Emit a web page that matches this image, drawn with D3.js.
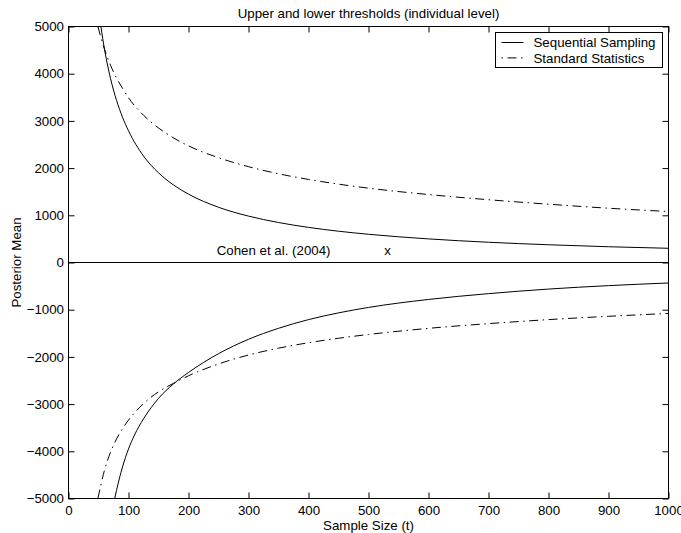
<!DOCTYPE html>
<html>
<head>
<meta charset="utf-8">
<script src="https://cdn.jsdelivr.net/npm/d3@7"></script>
<style>
  html, body { margin: 0; padding: 0; background: #fff; }
  svg { display: block; }
  text { font-family: "Liberation Sans", Arial, Helvetica, sans-serif; fill: #000; }
</style>
</head>
<body>
<svg id="chart" width="681" height="533"></svg>
<script>
// Threshold curves: sample size t against posterior mean
const seqUpperT = [54, 60, 70, 80, 90, 100, 125, 150, 175, 200, 250, 300, 350, 400, 450, 500, 600, 700, 800, 900, 1000];
const seqUpperV = [5000, 4517, 3900, 3438, 3078, 2790, 2256, 1900, 1643, 1448, 1170, 983, 847, 744, 663, 598, 500, 429, 376, 334, 301];

const seqLowerT = [77, 80, 85, 90, 100, 110, 125, 150, 175, 200, 250, 300, 350, 400, 450, 500, 600, 700, 800, 900, 1000];
const seqLowerV = [-5000, -4831, -4565, -4333, -3950, -3655, -3312, -2880, -2571, -2330, -1932, -1627, -1394, -1210, -1067, -952, -783, -660, -563, -490, -434];

const stdUpperT = [49, 60, 70, 80, 90, 100, 125, 150, 175, 200, 250, 300, 350, 400, 450, 500, 600, 700, 800, 900, 1000];
const stdUpperV = [5000, 4520, 4180, 3910, 3690, 3490, 3120, 2850, 2640, 2470, 2220, 2030, 1880, 1760, 1660, 1575, 1440, 1330, 1235, 1150, 1080];

const stdLowerT = [49, 60, 70, 80, 90, 100, 125, 150, 175, 200, 250, 300, 350, 400, 450, 500, 600, 700, 800, 900, 1000];
const stdLowerV = [-5000, -4400, -4020, -3740, -3520, -3340, -2990, -2740, -2560, -2400, -2150, -1960, -1815, -1700, -1605, -1525, -1395, -1295, -1210, -1140, -1079];

// Reference line at zero and the Cohen et al. annotation
const zeroT = [0, 1000];
const zeroV = [0, 0];
const cohenLabel = { t: 247, v: 150, text: "Cohen et al. (2004)" };
const cohenMark = { t: 532, v: 150, text: "x" };

// Axis ticks and labels
const xTicks = [0, 100, 200, 300, 400, 500, 600, 700, 800, 900, 1000];
const yTicks = [-5000, -4000, -3000, -2000, -1000, 0, 1000, 2000, 3000, 4000, 5000];
const seriesNames = ["Sequential Sampling", "Standard Statistics"];
const titleText = "Upper and lower thresholds (individual level)";
const xLabelText = "Sample Size (t)";
const yLabelText = "Posterior Mean";

const zip = (ts, vs) => ts.map((t, i) => ({ t, v: vs[i] }));

const svg = d3.select("#chart");
const plot = { left: 68.5, right: 668.5, top: 26.5, bottom: 498.5 };
const FS = 13.3;
const TICK = 6;
const DASHDOT = "9,4.5,1.5,4.5";

const x = d3.scaleLinear().domain([0, 1000]).range([plot.left, plot.right]);
const y = d3.scaleLinear().domain([-5000, 5000]).range([plot.bottom, plot.top]);

svg.append("defs").append("clipPath").attr("id", "plotClip")
  .append("rect")
  .attr("x", plot.left).attr("y", plot.top)
  .attr("width", plot.right - plot.left).attr("height", plot.bottom - plot.top);

// Axes with inward ticks on all four sides
const fmt = d => d < 0 ? "\u2212" + Math.abs(d) : String(d);

const bottomAxis = d3.axisBottom(x).tickValues(xTicks).tickSizeInner(-TICK).tickSizeOuter(0).tickFormat(d => d);
const topAxis = d3.axisTop(x).tickValues(xTicks).tickSizeInner(-TICK).tickSizeOuter(0).tickFormat("");
const leftAxis = d3.axisLeft(y).tickValues(yTicks).tickSizeInner(-TICK).tickSizeOuter(0).tickPadding(4.5).tickFormat(fmt);
const rightAxis = d3.axisRight(y).tickValues(yTicks).tickSizeInner(-TICK).tickSizeOuter(0).tickFormat("");

function styleAxis(g) {
  g.select(".domain").remove();
  g.selectAll(".tick line").attr("stroke", "#000").attr("stroke-width", 1);
  g.selectAll(".tick text").style("font-size", FS + "px").attr("fill", "#000");
}

svg.append("g").attr("transform", `translate(0,${plot.bottom})`).call(bottomAxis).call(styleAxis)
  .selectAll(".tick text").attr("dy", null).attr("y", 16.5);
svg.append("g").attr("transform", `translate(0,${plot.top})`).call(topAxis).call(styleAxis);
svg.append("g").attr("transform", `translate(${plot.left},0)`).call(leftAxis).call(styleAxis);
svg.append("g").attr("transform", `translate(${plot.right},0)`).call(rightAxis).call(styleAxis);

// Plot box
svg.append("rect")
  .attr("x", plot.left).attr("y", plot.top)
  .attr("width", plot.right - plot.left).attr("height", plot.bottom - plot.top)
  .attr("fill", "none").attr("stroke", "#000").attr("stroke-width", 1);

// Curves
const line = d3.line().x(d => x(d.t)).y(d => y(d.v)).curve(d3.curveMonotoneX);
const curves = svg.append("g").attr("clip-path", "url(#plotClip)");

curves.append("path").datum(zip(zeroT, zeroV))
  .attr("d", line).attr("fill", "none").attr("stroke", "#000").attr("stroke-width", 1);

[zip(seqUpperT, seqUpperV), zip(seqLowerT, seqLowerV)].forEach(data => {
  curves.append("path").datum(data)
    .attr("d", line).attr("fill", "none").attr("stroke", "#000").attr("stroke-width", 1);
});
[zip(stdUpperT, stdUpperV), zip(stdLowerT, stdLowerV)].forEach(data => {
  curves.append("path").datum(data)
    .attr("d", line).attr("fill", "none").attr("stroke", "#000").attr("stroke-width", 1)
    .attr("stroke-dasharray", DASHDOT);
});

// Annotation
svg.append("text").attr("x", x(cohenLabel.t)).attr("y", y(cohenLabel.v))
  .style("font-size", FS + "px").text(cohenLabel.text);
svg.append("text").attr("x", x(cohenMark.t)).attr("y", y(cohenMark.v))
  .attr("text-anchor", "middle").style("font-size", FS + "px").text(cohenMark.text);

// Title and axis labels
svg.append("text").attr("x", (plot.left + plot.right) / 2).attr("y", 17.5)
  .attr("text-anchor", "middle").style("font-size", FS + "px").text(titleText);
svg.append("text").attr("x", (plot.left + plot.right) / 2).attr("y", 529.5)
  .attr("text-anchor", "middle").style("font-size", FS + "px").text(xLabelText);
svg.append("text")
  .attr("transform", `translate(21,${(plot.top + plot.bottom) / 2}) rotate(-90)`)
  .attr("text-anchor", "middle").style("font-size", FS + "px").text(yLabelText);

// Legend
const legend = svg.append("g").attr("transform", "translate(495.5,32.5)");
legend.append("rect").attr("width", 167).attr("height", 35)
  .attr("fill", "#fff").attr("stroke", "#000").attr("stroke-width", 1);
seriesNames.forEach((name, i) => {
  const ly = 10 + i * 15.4;
  const sample = legend.append("line")
    .attr("x1", 6).attr("x2", 28).attr("y1", ly).attr("y2", ly)
    .attr("stroke", "#000").attr("stroke-width", 1);
  if (i === 1) sample.attr("stroke-dasharray", DASHDOT).attr("stroke-dashoffset", 13.5);
  legend.append("text").attr("x", 38).attr("y", ly + 4.7)
    .style("font-size", FS + "px").text(name);
});
</script>
</body>
</html>
